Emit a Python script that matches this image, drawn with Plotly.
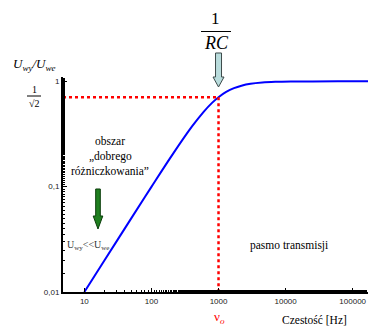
import plotly.graph_objects as go
import math

# ---- data ----
freq_hz = [10, 20, 50, 100, 200, 400, 600, 800, 1000, 1300, 1700, 2200, 3000,
           4500, 7000, 12000, 25000, 60000, 200000]
gain = [0.01, 0.02, 0.05, 0.0995, 0.196, 0.371, 0.514, 0.625, 0.707, 0.793,
        0.862, 0.910, 0.949, 0.976, 0.990, 0.997, 0.999, 1.0, 1.0]
cutoff_freq = 1000
cutoff_gain = 0.707
x_tickvals = [10, 100, 1000, 10000, 100000]
x_ticktext = ["10", "100", "1000", "10000", "100000"]
y_tickvals = [0.01, 0.1, 1]
y_ticktext = ["0,01", "0,1", "1"]

W, H = 368, 327
L, R, T, B = 63, 0, 77, 35
XR = [0.682, 5.228]
YR = [-2, math.log10(1.1)]
PW, PH = W - L - R, H - T - B

def px(x):
    return (x - L) / PW

def py(y):
    return (H - B - y) / PH

SERIF = "Liberation Serif, Times New Roman, serif"
SANS = "Liberation Sans, Arial, sans-serif"

fig = go.Figure()
fig.add_trace(go.Scatter(x=freq_hz, y=gain, mode="lines", line=dict(color="#0000ff", width=2, shape="spline"),
                         hoverinfo="skip"))
fig.add_trace(go.Scatter(x=[10 ** XR[0], cutoff_freq], y=[cutoff_gain, cutoff_gain], mode="lines",
                         line=dict(color="#ff0000", width=2.5, dash="dot"), hoverinfo="skip"))
fig.add_trace(go.Scatter(x=[cutoff_freq, cutoff_freq], y=[cutoff_gain, 0.01], mode="lines",
                         line=dict(color="#ff0000", width=2.5, dash="dot"), hoverinfo="skip"))

def poly(pts):
    return "M " + " L ".join(f"{px(a):.5f},{py(b):.5f}" for a, b in pts) + " Z"

shapes = []
# blue-gray arrow above cutoff
cx = L + (math.log10(cutoff_freq) - XR[0]) / (XR[1] - XR[0]) * PW
shapes.append(dict(type="path", xref="paper", yref="paper",
                   path=poly([(cx - 3, 53), (cx + 3, 53), (cx + 3, 77), (cx + 5.5, 77), (cx, 87),
                              (cx - 5.5, 77), (cx - 3, 77)]),
                   fillcolor="#b9dcdc", line=dict(color="#3c4a4a", width=1)))
# green arrow
gx = 98
shapes.append(dict(type="path", xref="paper", yref="paper",
                   path=poly([(gx - 2.3, 189), (gx + 2.3, 189), (gx + 2.3, 216), (gx + 4.8, 216), (gx, 229),
                              (gx - 4.8, 216), (gx - 2.3, 216)]),
                   fillcolor="#1f7f1f", line=dict(color="#0b3d0b", width=1)))
# fraction bars
shapes.append(dict(type="line", xref="paper", yref="paper", x0=px(201), x1=px(231), y0=py(31.5), y1=py(31.5),
                   line=dict(color="black", width=1)))
shapes.append(dict(type="line", xref="paper", yref="paper", x0=px(27), x1=px(41), y0=py(96), y1=py(96),
                   line=dict(color="black", width=1)))

ann = []
def A(text, x, y, size, color="black", family=SERIF, xanchor="center"):
    ann.append(dict(text=text, x=px(x), y=py(y), xref="paper", yref="paper", showarrow=False,
                    xanchor=xanchor, yanchor="middle", font=dict(family=family, size=size, color=color)))

A("1", 215, 18, 17)
A("<i>RC</i>", 216, 43, 18)
A("<i>U<sub>wy</sub>/U<sub>we</sub></i>", 34, 64, 13)
A("1", 34, 89, 10)
A("√2", 34, 103, 10)
A("obszar", 110, 141, 11.5)
A("„dobrego", 110, 156, 11.5)
A("różniczkowania”", 110, 171, 11.5)
A("U<sub>wy</sub>&lt;&lt;U<sub>we</sub>", 65, 245, 10, color="#333333", xanchor="left")
A("pasmo transmisji", 289, 245, 11.5)
A("ν<sub><i>o</i></sub>", 219, 317, 13, color="#ff0000")
A("Czestość [Hz]", 314, 320, 11.5)

fig.update_layout(
    width=W, height=H, margin=dict(l=L, r=R, t=T, b=B),
    paper_bgcolor="white", plot_bgcolor="white", showlegend=False,
    shapes=shapes, annotations=ann,
    xaxis=dict(type="log", range=XR, showgrid=False, zeroline=False, showline=True, linecolor="black",
               linewidth=2, tickvals=x_tickvals, ticktext=x_ticktext, ticks="inside", ticklen=4,
               tickcolor="black", tickwidth=1, tickfont=dict(family=SANS, size=8, color="#222"),
               minor=dict(ticks="inside", ticklen=2, tickcolor="black", showgrid=False)),
    yaxis=dict(type="log", range=YR, showgrid=False, zeroline=False, showline=True, linecolor="black",
               linewidth=2, tickvals=y_tickvals, ticktext=y_ticktext, ticks="inside", ticklen=4,
               tickcolor="black", tickwidth=1, tickfont=dict(family=SANS, size=8, color="#222"),
               minor=dict(ticks="inside", ticklen=2, tickcolor="black", showgrid=False)),
)
fig.write_html("out.html", config={"displayModeBar": False},
               post_script="document.body.style.margin='0';document.body.style.overflow='hidden';")
